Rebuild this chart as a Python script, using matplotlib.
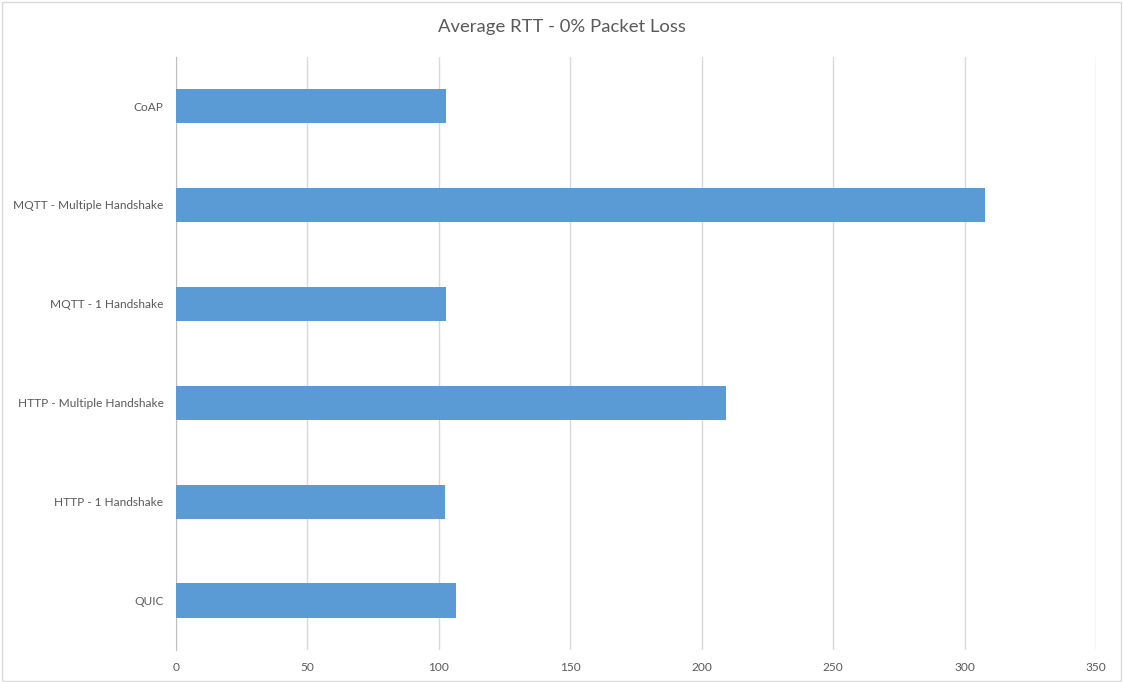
import matplotlib.pyplot as plt

protocols = ["QUIC",
             "HTTP - 1 Handshake",
             "HTTP - Multiple Handshake",
             "MQTT - 1 Handshake",
             "MQTT - Multiple Handshake",
             "CoAP"]
avg_rtt = [106.5, 102.2, 209.3, 102.7, 307.7, 102.7]
x_ticks = [0, 50, 100, 150, 200, 250, 300, 350]

plt.rcParams['font.family'] = ['Lato', 'DejaVu Sans']

fig = plt.figure(figsize=(11.23, 6.82), dpi=100)
ax = fig.add_axes([0.1567, 0.047, 0.8193, 0.870])

ax.barh(range(len(protocols)), avg_rtt, height=0.345, color="#5B9BD5", zorder=3)

ax.set_xlim(0, 350)
ax.set_ylim(-0.5, len(protocols) - 0.5)
ax.set_xticks(x_ticks)
ax.set_yticks(range(len(protocols)))
ax.set_yticklabels(protocols)
ax.tick_params(length=0, labelsize=8.6, colors="#595959")
ax.tick_params(axis="y", pad=9)
ax.tick_params(axis="x", pad=9)

ax.grid(axis="x", color="#d9d9d9", linewidth=1, zorder=0)
for side in ["top", "right", "bottom"]:
    ax.spines[side].set_visible(False)
ax.spines["left"].set_color("#bfbfbf")

fig.text(0.5, 0.96, "Average RTT - 0% Packet Loss", ha="center", va="center",
         fontsize=13.3, color="#595959")

# thin frame around the whole chart
fig.patches.append(plt.Rectangle((0.002, 0.002), 0.996, 0.995, transform=fig.transFigure,
                                 fill=False, edgecolor="#d9d9d9", linewidth=1))

fig.savefig("out.png", dpi=100)
